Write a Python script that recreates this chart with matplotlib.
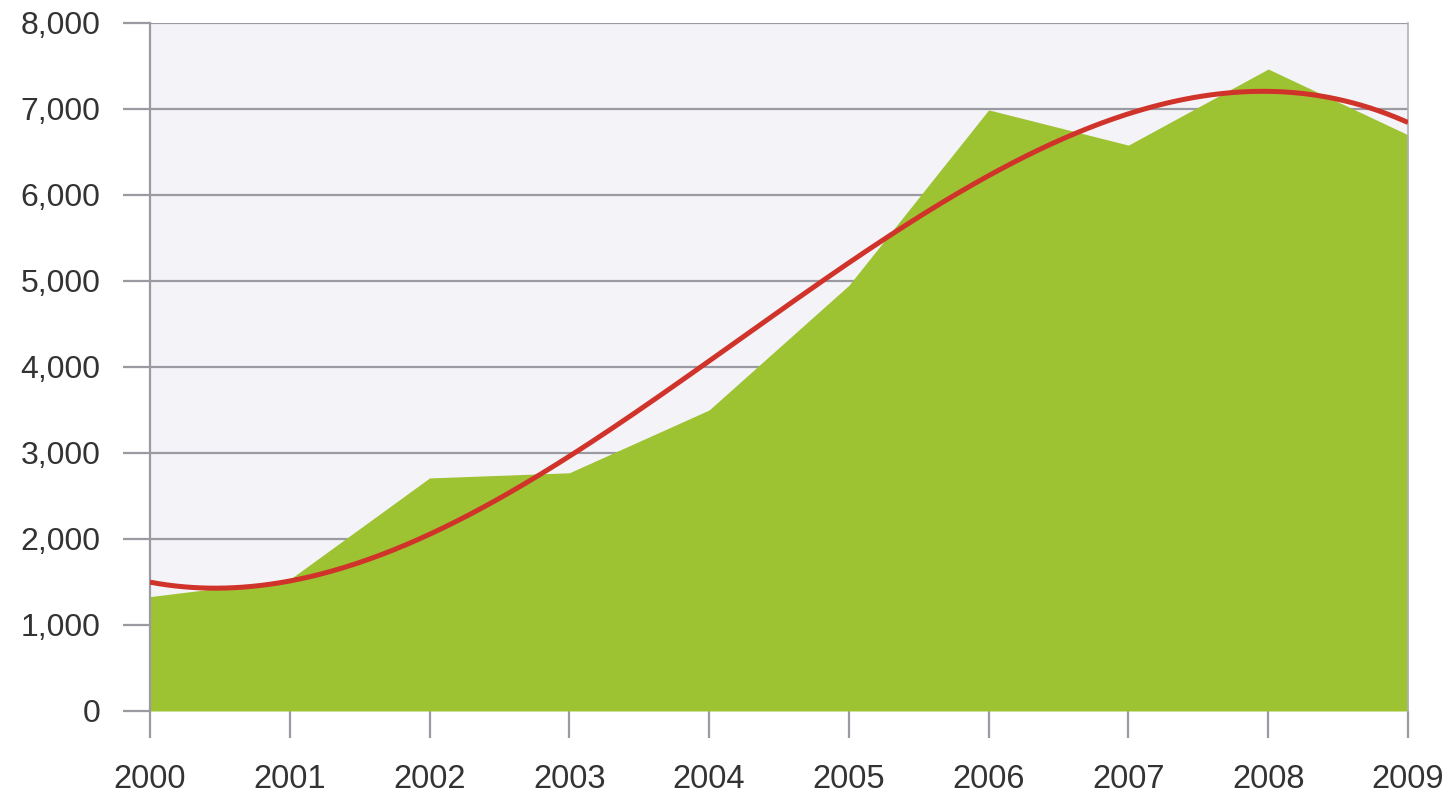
import numpy as np
import matplotlib
matplotlib.use("Agg")
import matplotlib.pyplot as plt
from matplotlib.ticker import FuncFormatter

years = [2000, 2001, 2002, 2003, 2004, 2005, 2006, 2007, 2008, 2009]
values = [1330, 1530, 2710, 2770, 3500, 4950, 6990, 6580, 7465, 6700]
y_ticks = [0, 1000, 2000, 3000, 4000, 5000, 6000, 7000, 8000]

plt.rcParams['font.family'] = ['Liberation Sans', 'DejaVu Sans']

fig = plt.figure(figsize=(14.48, 8), dpi=100)
ax = fig.add_axes([150/1448, 1-711/800, (1408-150)/1448, (711-23)/800])
ax.set_facecolor('#f4f3f8')

grid_c = '#9a9aa2'
ax.fill_between(years, values, 0, color='#9ec332', lw=0, zorder=2)

# cubic polynomial trend line of the data
coef = np.polyfit(years, values, 3)
xs = np.linspace(years[0], years[-1], 300)
ax.plot(xs, np.polyval(coef, xs), color='#d0332a', lw=3.6, zorder=3,
        solid_capstyle='butt')

ax.set_xlim(years[0], years[-1])
ax.set_ylim(0, 8000)
ax.set_xticks(years)
ax.set_yticks(y_ticks)
ax.yaxis.set_major_formatter(FuncFormatter(lambda v, p: f"{int(v):,}"))

for y in y_ticks:
    ax.axhline(y, color=grid_c, lw=1.6, zorder=1)

for s in ['top', 'bottom']:
    ax.spines[s].set_visible(False)
ax.spines['left'].set_color(grid_c)
ax.spines['left'].set_linewidth(1.6)
ax.spines['right'].set_color('#b0b0b8')
ax.spines['right'].set_linewidth(1.2)

ax.tick_params(axis='y', length=19.5, width=1.6, color=grid_c, pad=16,
               labelsize=23, labelcolor='#333333')
ax.tick_params(axis='x', length=19.5, width=1.6, color=grid_c, pad=19,
               labelsize=23.5, labelcolor='#333333')

fig.savefig('out.png', dpi=100, facecolor='white')
